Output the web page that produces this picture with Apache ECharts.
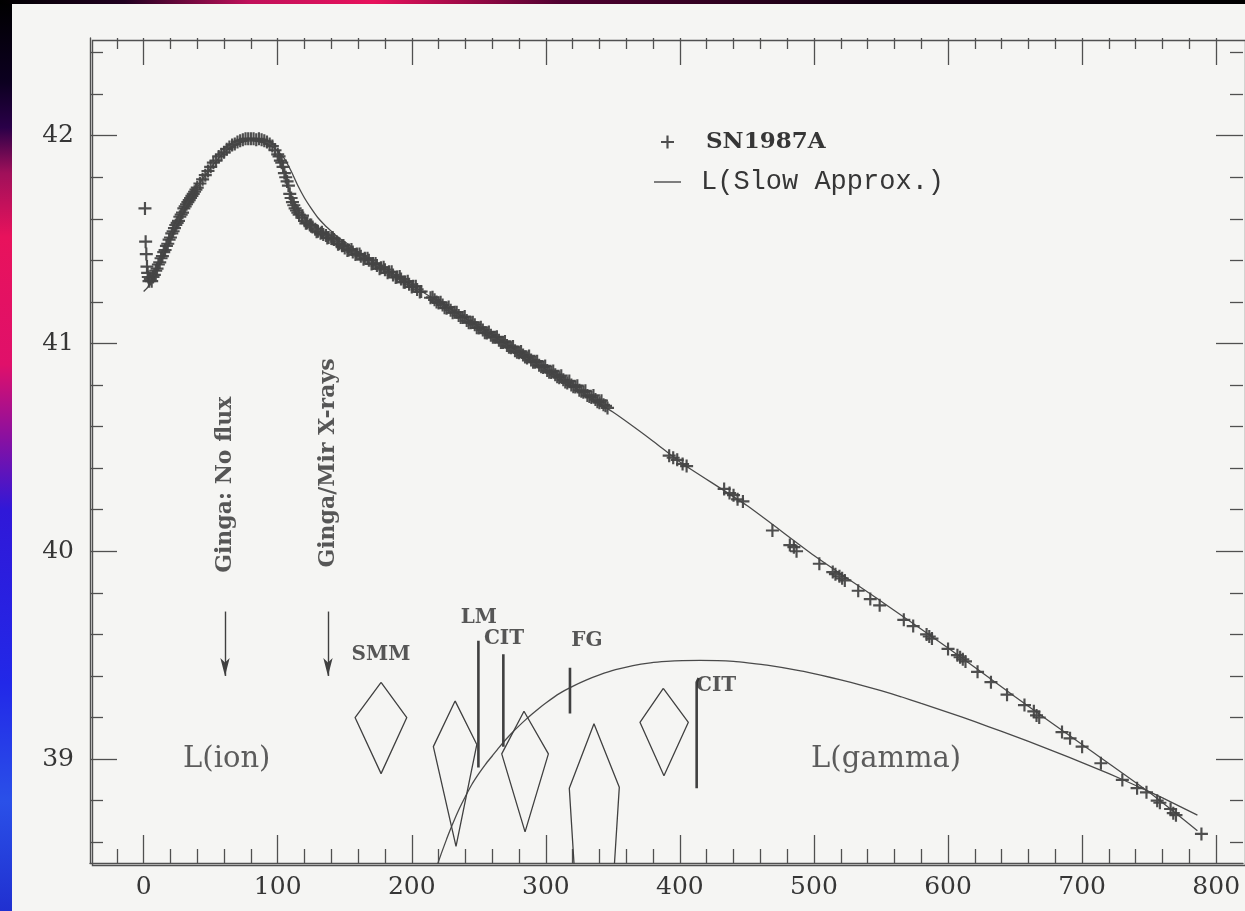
<!DOCTYPE html>
<html>
<head>
<meta charset="utf-8">
<script src="https://cdn.jsdelivr.net/npm/echarts@6/dist/echarts.min.js"></script>
<style>
html,body{margin:0;padding:0;background:#f5f5f3;}
#chart{width:1245px;height:911px;}
</style>
</head>
<body>
<div id="chart"></div>
<script>
// ---------- data ----------
const xMajorTicks = [0,100,200,300,400,500,600,700,800];
const xMinorTicks = [-20,20,40,60,80,120,140,160,180,220,240,260,280,320,340,360,380,420,440,460,480,520,540,560,580,620,640,660,680,720,740,760,780];
const yMajorTicks = [39,40,41,42];
const yMinorTicks = [38.6,38.8,39.2,39.4,39.6,39.8,40.2,40.4,40.6,40.8,41.2,41.4,41.6,41.8,42.2,42.4];

// SN1987A bolometric light curve (day, log L)
const sn1987a = [
[1,41.65],[1.5,41.49],[2,41.43],[2.5,41.37],[3,41.34],[3.5,41.32],[4,41.30],[5,41.31],[6,41.30],[7,41.32],[8,41.33],[9,41.35],[10,41.36],[11,41.38],[12,41.39],[13,41.41],[14,41.42],[15,41.44],[16,41.45],[17,41.47],[18,41.48],[19,41.50],[20,41.51],[21,41.53],[22,41.54],[23,41.555],[24,41.57],[25,41.58],[26,41.59],[27,41.61],[28,41.62],[29,41.63],[30,41.65],[31,41.66],[32,41.67],[33,41.68],[34,41.69],[35,41.70],[36,41.71],[37,41.72],[38,41.73],[39,41.74],[40,41.75],[42,41.77],[44,41.79],[46,41.81],[48,41.83],[50,41.85],[52,41.87],[54,41.88],[56,41.90],[58,41.91],[60,41.92],[62,41.935],[64,41.945],[66,41.955],[68,41.96],[70,41.97],[72,41.975],[74,41.98],[76,41.985],[78,41.985],[80,41.985],[82,41.985],[84,41.98],[86,41.985],[88,41.98],[90,41.975],[92,41.97],[94,41.96],[96,41.95],[98,41.93],[100,41.91],[101,41.90],[102,41.88],[103,41.87],[104,41.85],[105,41.82],[106,41.80],[107,41.78],[108,41.76],[109,41.72],[110,41.70],[111,41.68],[112,41.665],[113,41.65],[114,41.64],[115,41.63],[116,41.62],[118,41.605],[120,41.59],[122,41.58],[124,41.57],[126,41.56],[128,41.55],[130,41.54],[132,41.53],[134,41.525],[136,41.52],[138,41.51],[140,41.505],[142,41.50],[144,41.49],[146,41.48],[148,41.47],[150,41.46],[153,41.45],[156,41.44],[159,41.43],[162,41.42],[165,41.41],[168,41.40],[171,41.385],[174,41.375],[177,41.365],[180,41.355],[183,41.345],[186,41.33],[189,41.32],[192,41.31],[195,41.295],[198,41.285],[201,41.275],[204,41.26],[207,41.25],
[214,41.22],[217,41.21],[220,41.195],[223,41.185],[226,41.17],[229,41.16],[232,41.15],[235,41.135],[238,41.125],[241,41.11],[244,41.10],[247,41.09],[250,41.075],[253,41.065],[256,41.05],[259,41.04],[262,41.03],[265,41.015],[268,41.005],[271,40.99],[274,40.98],[277,40.965],[280,40.955],[283,40.945],[286,40.93],[289,40.92],[292,40.91],[295,40.895],[298,40.885],[301,40.87],[304,40.86],[307,40.85],[310,40.835],[313,40.825],[316,40.81],[319,40.80],[322,40.79],[325,40.775],[328,40.765],[331,40.75],[334,40.74],[337,40.73],[340,40.715],[343,40.705],[346,40.69],
[118.5,41.615],[121,41.578],[125,41.57],[129,41.538],[133,41.535],[137,41.508],[141,41.51],[145,41.478],[149,41.472],[152,41.448],[155,41.452],[158,41.428],[161,41.43],[164,41.405],[167,41.41],[170,41.383],[173,41.385],[176,41.36],[179,41.367],[182,41.34],[185,41.345],[188,41.318],[191,41.322],[194,41.295],[197,41.3],[200,41.272],[203,41.275],[206,41.248],
[215.5,41.222],[218.5,41.2],[221.5,41.198],[224.5,41.172],[227.5,41.175],[230.5,41.148],[233.5,41.15],[236.5,41.125],[239.5,41.13],[242.5,41.1],[245.5,41.102],[248.5,41.076],[251.5,41.078],[254.5,41.052],[257.5,41.055],[260.5,41.03],[263.5,41.032],[266.5,41.005],[269.5,41.01],[272.5,40.982],[275.5,40.985],[278.5,40.958],[281.5,40.962],[284.5,40.935],[287.5,40.94],[290.5,40.91],[293.5,40.915],[296.5,40.888],[299.5,40.892],[302.5,40.862],[305.5,40.868],[308.5,40.84],[311.5,40.845],[314.5,40.815],[317.5,40.82],[320.5,40.792],[323.5,40.797],[326.5,40.77],[329.5,40.772],[332.5,40.745],[335.5,40.75],[338.5,40.72],[341.5,40.725],[344.5,40.7],
[392,40.46],[395,40.45],[398,40.44],[402,40.42],[405,40.41],[433,40.30],[437,40.28],[440,40.27],[443,40.25],[447,40.24],[469,40.10],[482,40.03],[485,40.02],[487,40.00],[504,39.94],[514,39.90],[516,39.89],[519,39.88],[521,39.87],[523,39.86],[533,39.81],[542,39.77],[549,39.74],[567,39.67],[574,39.64],[584,39.60],[586,39.59],[588,39.58],[600,39.53],[607,39.50],[609,39.49],[611,39.48],[613,39.47],[622,39.42],[632,39.37],[644,39.31],[657,39.26],[664,39.23],[666,39.21],[668,39.20],[685,39.13],[691,39.10],[700,39.06],[714,38.98],[730,38.90],[741,38.86],[748,38.84],[756,38.80],[758,38.79],[766,38.76],[768,38.74],[770,38.73],[789,38.64]
];

// L(Slow Approx.) model curve
const slowApprox = [
[0,41.25],[3,41.27],[6,41.31],[10,41.36],[15,41.43],[20,41.50],[25,41.57],[30,41.635],[35,41.695],[40,41.75],[45,41.80],[50,41.845],[55,41.885],[60,41.92],[65,41.945],[70,41.962],[75,41.972],[80,41.975],[85,41.972],[90,41.965],[95,41.95],[100,41.925],[105,41.89],[110,41.83],[115,41.76],[120,41.70],[125,41.65],[130,41.605],[135,41.57],[140,41.54],[145,41.51],[150,41.49],[160,41.44],[175,41.38],[200,41.28],[250,41.08],[300,40.875],[350,40.67],[380,40.53],[400,40.43],[450,40.22],[500,39.98],[550,39.76],[600,39.535],[650,39.30],[700,39.07],[750,38.84],[786,38.655]
];

// L(gamma) curve
const lGamma = [
[219,38.49],[222,38.545],[226,38.615],[230,38.68],[235,38.755],[240,38.82],[245,38.88],[250,38.93],[255,38.975],[260,39.015],[265,39.055],[270,39.093],[275,39.128],[280,39.16],[285,39.19],[290,39.218],[295,39.245],[300,39.27],[310,39.315],[320,39.35],[330,39.38],[340,39.405],[352,39.43],[365,39.45],[378,39.463],[390,39.47],[402,39.474],[415,39.475],[428,39.474],[440,39.47],[452,39.462],[465,39.452],[490,39.425],[505,39.404],[520,39.381],[535,39.356],[550,39.329],[565,39.30],[580,39.268],[600,39.225],[620,39.18],[640,39.133],[660,39.085],[680,39.035],[700,38.983],[720,38.93],[740,38.873],[760,38.813],[786,38.73]
];

// error boxes of other observations
const smmBox  = [[177.1,39.369],[196.3,39.20],[177.1,38.93],[157.7,39.20],[177.1,39.369]];
const box2    = [[232.3,39.28],[248.5,39.07],[233,38.58],[216.1,39.06],[232.3,39.28]];
const box3    = [[283.7,39.23],[301.9,39.025],[284.5,38.65],[267.1,39.025],[283.7,39.23]];
const box4    = [[335.9,39.17],[354.8,38.865],[336,36.95],[317.5,38.86],[335.9,39.17]];
const box5    = [[387.6,39.34],[406.3,39.177],[388.1,38.92],[370.2,39.177],[387.6,39.34]];
const lmBar   = [[249.7,39.57],[249.7,38.96]];
const citBar1 = [[268.3,39.505],[268.3,39.06]];
const fgBar   = [[318,39.44],[318,39.22]];
const citBar2 = [[412.5,38.86],[412.5,39.37],[414,39.39]];

// arrows (x, top, tip)
const arrowNoFlux = [60.7, 39.71, 39.40];
const arrowXrays  = [137.5, 39.71, 39.40];

// text annotations
const vertLabels = [
  {name:'Ginga: No flux', value:[60.7,40.32]},
  {name:'Ginga/Mir X-rays', value:[137.5,40.425]}
];
const bigLabels = [
  {name:'L(ion)', value:[62,38.996]},
  {name:'L(gamma)', value:[553.8,38.996]}
];
const obsLabels = [
  {name:'SMM', value:[177,39.50]},
  {name:'LM', value:[250,39.68]},
  {name:'CIT', value:[268.8,39.58]},
  {name:'FG', value:[330.7,39.57]},
  {name:'CIT', value:[427,39.355]}
];

// ---------- chart ----------
const INK = '#363636';
const LINE = '#505050';
const PLUS = 'path://M5,0H7V5H12V7H7V12H5V7H0V5H5Z';
const chart = echarts.init(document.getElementById('chart'));

function xAx(pos, ticks, len, labels){
  return {type:'value', position:pos, min:-40, max:820,
    axisLine:{show:labels!==null, onZero:false, lineStyle:{color:LINE,width:1.4}},
    axisTick:{show:true, inside:true, length:len, customValues:ticks, lineStyle:{color:LINE,width:1.3}},
    axisLabel: labels ? {show:true, customValues:labels, color:INK, fontFamily:'DejaVu Serif', fontSize:25, margin:12} : {show:false},
    splitLine:{show:false}};
}
function yAx(pos, ticks, len, labels){
  return {type:'value', position:pos, min:38.5, max:42.47,
    axisLine:{show:labels!==null, onZero:false, lineStyle:{color:LINE,width:1.4}},
    axisTick:{show:true, inside:true, length:len, customValues:ticks, lineStyle:{color:LINE,width:1.3}},
    axisLabel: labels ? {show:true, customValues:labels, color:INK, fontFamily:'DejaVu Serif', fontSize:25, margin:16} : {show:false},
    splitLine:{show:false}};
}
function shape(data, w){
  return {type:'line', data:data, showSymbol:false, symbol:'none', silent:true, clip:true,
    lineStyle:{color:'#404040', width:w||1.3}, z:3};
}
function arrow(a){
  return {type:'line', data:[], silent:true,
    markLine:{silent:true, symbol:['none','arrow'], symbolSize:[7,18], label:{show:false},
      lineStyle:{color:'#404040', width:1.4, type:'solid'},
      data:[[{coord:[a[0],a[1]]},{coord:[a[0],a[2]]}]]}};
}

chart.setOption({
  animation:false,
  backgroundColor:'#f5f5f3',
  grid:{left:90, top:38, width:1153, height:825, show:false},
  legend:{
    orient:'vertical', left:649, top:122, itemWidth:27, itemHeight:13, itemGap:10,
    data:[
      {name:'SN1987A', icon:PLUS, textStyle:{fontFamily:'DejaVu Serif', fontWeight:'bold', fontSize:23, color:INK, lineHeight:30, padding:[0,0,0,20]}},
      {name:'L(Slow Approx.)', icon:'path://M0,0H27V1.4H0Z', textStyle:{fontFamily:'Liberation Mono', fontSize:27, color:INK, lineHeight:30, padding:[0,0,0,15]}}
    ]
  },
  xAxis:[
    xAx('bottom', xMajorTicks, 28, xMajorTicks),
    xAx('bottom', xMinorTicks, 14, null),
    xAx('top', xMajorTicks, 27, null),
    xAx('top', xMinorTicks, 11, null)
  ],
  yAxis:[
    yAx('left', yMajorTicks, 27, yMajorTicks),
    yAx('left', yMinorTicks, 13, null),
    yAx('right', yMajorTicks, 27, null),
    yAx('right', yMinorTicks, 13, null)
  ],
  graphic:[
    {type:'rect', left:0, top:0, z:100, shape:{width:12, height:911},
      style:{fill:new echarts.graphic.LinearGradient(0,0,0,1,[
        {offset:0,color:'#000000'},{offset:0.09,color:'#0c0020'},{offset:0.14,color:'#2a0048'},
        {offset:0.19,color:'#a0105a'},{offset:0.26,color:'#e8125c'},{offset:0.4,color:'#e0106a'},
        {offset:0.48,color:'#8a10a0'},{offset:0.56,color:'#3018d8'},{offset:0.75,color:'#2228e8'},
        {offset:0.88,color:'#2a50e8'},{offset:1,color:'#2030d0'}])}},
    {type:'rect', left:0, top:0, z:100, shape:{width:1245, height:4},
      style:{fill:new echarts.graphic.LinearGradient(0,0,1,0,[
        {offset:0,color:'#000000'},{offset:0.1,color:'#200020'},{offset:0.2,color:'#c0105a'},
        {offset:0.3,color:'#e8125c'},{offset:0.45,color:'#500030'},{offset:0.7,color:'#100010'},{offset:1,color:'#000000'}])}},
    {type:'rect', left:90, top:38, z:0, shape:{width:1153, height:825},
      style:{fill:'none', stroke:LINE, lineWidth:1.4}}
  ],
  series:[
    {name:'SN1987A', type:'scatter', data:sn1987a, symbol:PLUS, symbolSize:13,
      itemStyle:{color:'#454545', opacity:0.95}, z:4},
    {name:'L(Slow Approx.)', type:'line', data:slowApprox, showSymbol:false, symbol:'none', smooth:0.2,
      lineStyle:{color:'#4a4a4a', width:1.3}, itemStyle:{color:'#4a4a4a'}, z:3},
    {name:'L(gamma)', type:'line', data:lGamma, showSymbol:false, symbol:'none', smooth:0.2,
      lineStyle:{color:'#4a4a4a', width:1.3}, z:3},
    shape(smmBox), shape(box2), shape(box3), shape(box4), shape(box5),
    shape(lmBar,2.6), shape(citBar1,2.6), shape(fgBar,2.6), shape(citBar2,2.6),
    arrow(arrowNoFlux), arrow(arrowXrays),
    {type:'scatter', data:vertLabels, symbolSize:0, silent:true, z:5,
      label:{show:true, position:'inside', rotate:90, formatter:'{b}', color:'#2e2e2e',
        fontFamily:'DejaVu Serif', fontWeight:'bold', fontSize:22}},
    {type:'scatter', data:bigLabels, symbolSize:0, silent:true, z:5,
      label:{show:true, position:'inside', formatter:'{b}', color:INK,
        fontFamily:'DejaVu Serif', fontSize:29}},
    {type:'scatter', data:obsLabels, symbolSize:0, silent:true, z:5,
      label:{show:true, position:'inside', formatter:'{b}', color:'#2e2e2e',
        fontFamily:'DejaVu Serif', fontWeight:'bold', fontSize:20}}
  ]
});
</script>
</body>
</html>
